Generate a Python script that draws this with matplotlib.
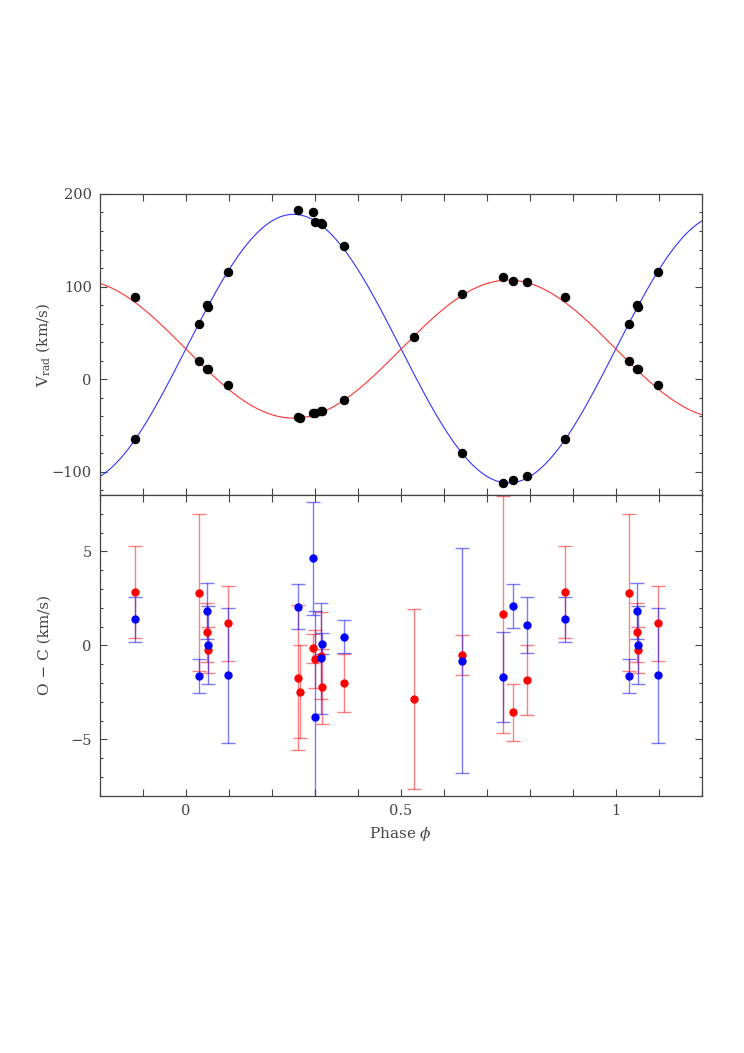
"""Radial-velocity curve and O-C residuals of a double-lined binary."""

import matplotlib
matplotlib.use("Agg")
import matplotlib.pyplot as plt
import numpy as np
from matplotlib.ticker import MultipleLocator, FixedLocator

# observed phases (0..1)
phase = np.array([0.030, 0.050, 0.052, 0.098, 0.261, 0.265, 0.296, 0.300,
                  0.314, 0.317, 0.368, 0.531, 0.643, 0.738, 0.761, 0.792, 0.881])

# radial velocities (km/s), primary (blue fit) and secondary (red fit)
v1 = np.array([59.5, 80.0, 78.0, 116.0, 182.7, np.nan, 180.0, 170.0,
               168.5, 167.5, 143.8, np.nan, -79.6, -112.0, -108.8, -104.9, -64.0])
v2 = np.array([19.8, 11.5, 10.5, -6.0, -41.0, -41.4, -36.8, -36.4,
               -34.6, -34.3, -22.3, 45.8, 92.2, 110.6, 105.6, 105.2, 89.0])

# O-C residuals and errors (km/s)
oc1 = np.array([-1.65, 1.82, 0.03, -1.60, 2.05, np.nan, 4.63, -3.80,
                -0.69, 0.10, 0.47, np.nan, -0.82, -1.69, 2.08, 1.08, 1.40])
err1 = np.array([0.90, 1.50, 2.08, 3.57, 1.20, np.nan, 3.00, 5.64,
                 2.97, 0.58, 0.90, np.nan, 5.98, 2.38, 1.18, 1.49, 1.20])
oc2 = np.array([2.80, 0.69, -0.25, 1.17, -1.72, -2.47, -0.16, -0.73,
                -0.55, -2.20, -2.02, -2.84, -0.52, 1.66, -3.56, -1.86, 2.82])
err2 = np.array([4.18, 1.56, 1.24, 2.00, 3.86, 2.47, 0.78, 1.55,
                 2.30, 2.00, 1.55, 4.80, 1.07, 6.30, 1.53, 1.86, 2.45])

# orbital solution (circular orbit)
gamma1, k1 = 33.0, 145.0
gamma2, k2 = 32.5, 74.5

XMIN, XMAX = -0.2, 1.2


def extend(ph, *cols):
    """Repeat points so the phase range -0.2..1.2 is covered."""
    lo = ph > 1 + XMIN
    hi = ph < XMAX - 1
    out_ph = np.concatenate([ph, ph[lo] - 1, ph[hi] + 1])
    out = [np.concatenate([c, c[lo], c[hi]]) for c in cols]
    return out_ph, out


plt.rcParams["font.family"] = "DejaVu Serif"
plt.rcParams["mathtext.fontset"] = "dejavuserif"
GREY = "#444444"

fig = plt.figure(figsize=(7.44, 10.53), dpi=100)
ax1 = fig.add_axes([0.1344, 0.5299, 0.8091, 0.2859])
ax2 = fig.add_axes([0.1344, 0.2443, 0.8091, 0.2856])

ph, (rv1, rv2, r1, e1, r2, e2) = extend(phase, v1, v2, oc1, err1, oc2, err2)

# top: RV curves
grid = np.linspace(XMIN, XMAX, 600)
ax1.plot(grid, gamma1 + k1 * np.sin(2 * np.pi * grid), color="#3333ff", lw=0.8)
ax1.plot(grid, gamma2 - k2 * np.sin(2 * np.pi * grid), color="#ff3333", lw=0.8)
ax1.plot(ph, rv1, "o", color="black", ms=5.8, zorder=3)
ax1.plot(ph, rv2, "o", color="black", ms=5.8, zorder=3)
ax1.set_xlim(XMIN, XMAX)
ax1.set_ylim(-125, 200)
ax1.yaxis.set_major_locator(MultipleLocator(100))
ax1.yaxis.set_minor_locator(MultipleLocator(20))
ax1.set_ylabel(r"V$_{\rm rad}$ (km/s)", fontsize=11, color=GREY)
ax1.tick_params(labelbottom=False)

# bottom: residuals
ax2.errorbar(ph, r2, yerr=e2, fmt="none", ecolor="red", alpha=0.5,
             elinewidth=1, capsize=4.7, capthick=1)
ax2.errorbar(ph, r1, yerr=e1, fmt="none", ecolor="#2222ff", alpha=0.6,
             elinewidth=1, capsize=4.7, capthick=1)
ax2.plot(ph, r2, "o", color="red", ms=5, zorder=3)
ax2.plot(ph, r1, "o", color="blue", ms=5, zorder=4)
ax2.set_xlim(XMIN, XMAX)
ax2.set_ylim(-8, 8)
ax2.yaxis.set_major_locator(MultipleLocator(5))
ax2.yaxis.set_minor_locator(MultipleLocator(1))
ax2.set_ylabel("O \u2212 C (km/s)", fontsize=11, color=GREY)
ax2.set_xlabel(r"Phase $\phi$", fontsize=11, color=GREY, labelpad=5)

for ax in (ax1, ax2):
    ax.xaxis.set_major_locator(FixedLocator([0, 0.5, 1]))
    ax.xaxis.set_minor_locator(MultipleLocator(0.1))
    ax.xaxis.set_major_formatter(plt.FuncFormatter(lambda v, p: f"{v:g}"))
    ax.tick_params(which="both", direction="in", top=True, right=True,
                   colors=GREY, labelsize=10.5, width=0.8)
    ax.tick_params(axis="x", which="both", length=5)
    ax.tick_params(axis="y", which="major", length=5)
    ax.tick_params(axis="y", which="minor", length=2.5)
    ax.tick_params(axis="both", which="major", pad=6)
    for s in ax.spines.values():
        s.set_color(GREY)
        s.set_linewidth(0.9)
    ax.yaxis.set_label_coords(-0.08, 0.5)

fig.savefig("out.png", dpi=100)
